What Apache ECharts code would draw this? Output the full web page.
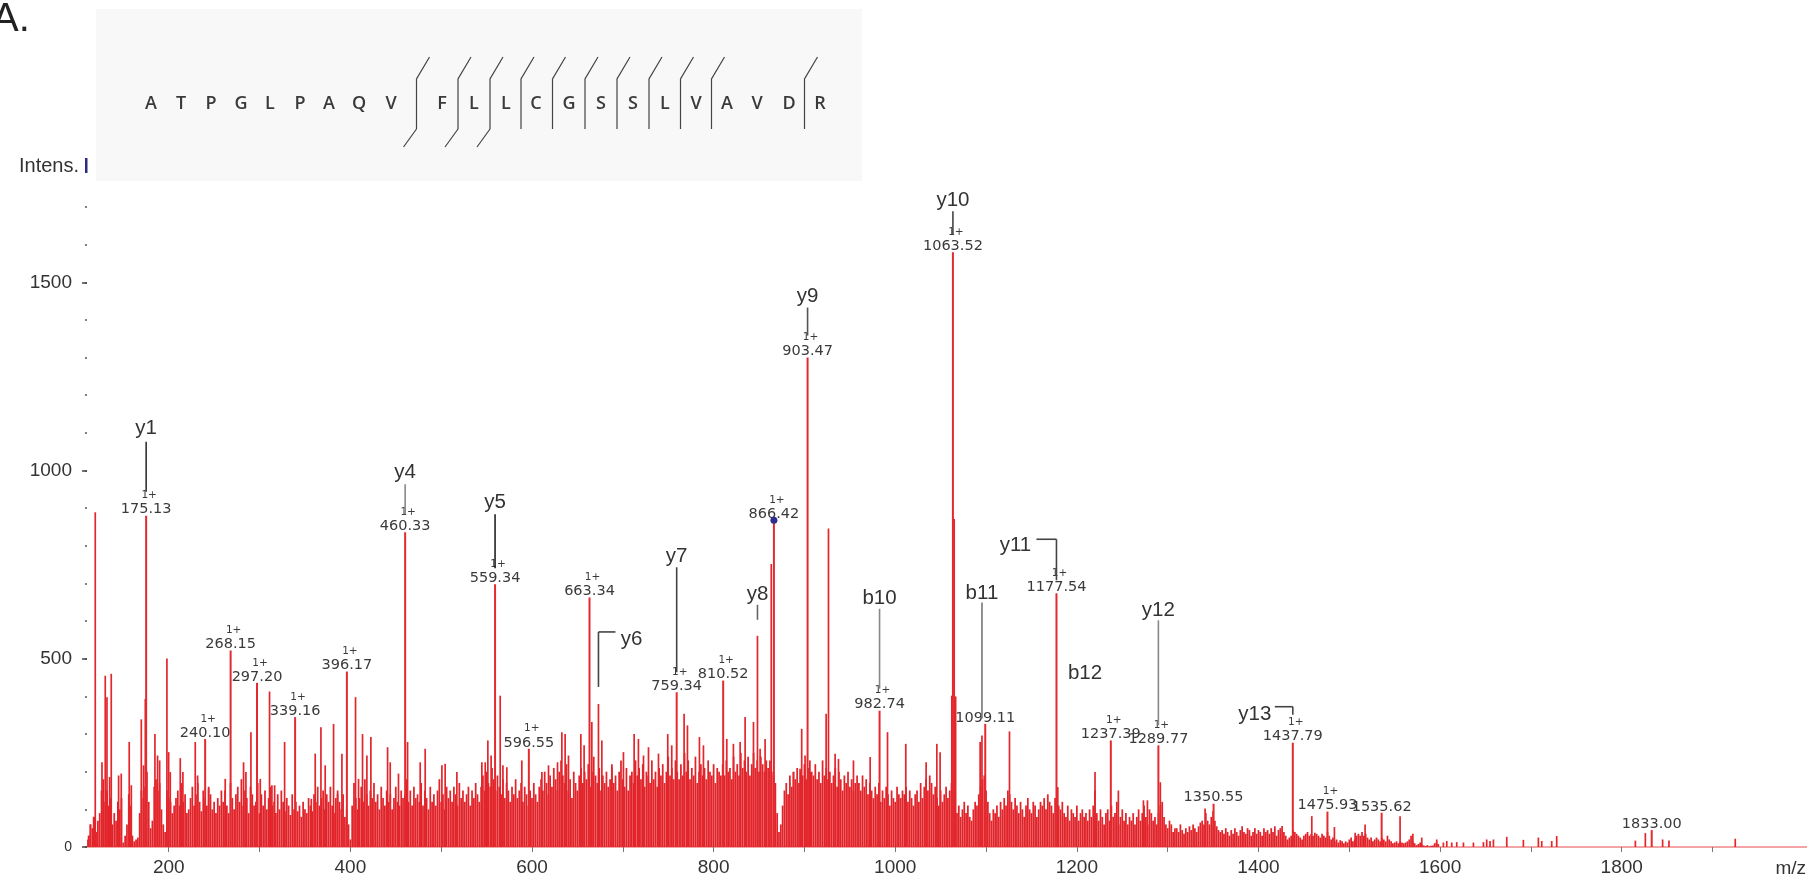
<!DOCTYPE html>
<html>
<head>
<meta charset="utf-8">
<script src="https://cdn.jsdelivr.net/npm/echarts@6/dist/echarts.min.js"></script>
<style>
  html, body { margin: 0; padding: 0; background: #fff; }
  #chart { width: 1807px; height: 883px; }
</style>
</head>
<body>
<div id="chart"></div>
<script>
// ---------- spectrum data ----------
// background ion forest: bin start m/z and the tallest intensity in each 2 m/z bin
const floorBinWidth = 2;
const floorRows = [
  [110,  [20, 30, 60, 50, 80, 40, 70, 90, 150, 180, 120, 150, 110, 130, 60, 90, 70, 120, 100, 130, 12, 30, 60, 140, 110]],
  [160,  [30, 15, 20, 25, 90, 150, 130, 160, 200, 120, 50, 70, 160, 180, 150, 170, 100, 60, 40, 150, 130, 120, 90, 110, 130]],
  [210,  [150, 110, 170, 120, 140, 90, 100, 130, 160, 110, 140, 170, 120, 95, 150, 130, 110, 160, 140, 100, 120, 90, 130, 110, 150]],
  [260,  [120, 150, 110, 90, 170, 130, 100, 140, 160, 120, 180, 110, 150, 130, 90, 160, 140, 110, 120, 170, 90, 140, 110, 150, 100]],
  [310,  [130, 160, 110, 120, 90, 140, 100, 150, 120, 95, 130, 110, 85, 140, 100, 120, 95, 110, 80, 120, 100, 90, 130, 110, 95]],
  [360,  [140, 120, 160, 110, 130, 150, 100, 140, 120, 160, 110, 90, 130, 150, 120, 100, 140, 80, 100, 60, 20, 110, 170, 130, 100]],
  [410,  [130, 160, 120, 180, 140, 110, 150, 130, 170, 120, 140, 100, 160, 130, 110, 150, 120, 140, 100, 130, 160, 120, 110, 150, 130]],
  [460,  [140, 180, 120, 150, 110, 160, 130, 140, 120, 170, 110, 150, 130, 100, 160, 120, 140, 110, 150, 180, 120, 140, 100, 160, 130]],
  [510,  [150, 120, 160, 140, 110, 170, 130, 150, 120, 140, 160, 110, 150, 130, 170, 140, 120, 160, 190, 150, 200, 170, 160, 210, 180]],
  [560,  [150, 190, 160, 140, 180, 130, 170, 150, 120, 160, 140, 180, 130, 150, 170, 120, 160, 140, 110, 150, 130, 170, 140, 120, 160]],
  [610,  [180, 150, 200, 170, 140, 190, 160, 210, 180, 150, 200, 230, 190, 170, 220, 150, 180, 130, 200, 170, 150, 190, 210, 170, 200]],
  [660,  [180, 220, 160, 200, 240, 190, 170, 210, 150, 190, 170, 200, 160, 180, 220, 170, 190, 150, 200, 230, 180, 160, 210, 150, 190]],
  [710,  [200, 170, 230, 190, 210, 180, 220, 160, 200, 190, 170, 230, 180, 200, 160, 210, 190, 220, 170, 200, 240, 190, 210, 180, 230]],
  [760,  [200, 180, 220, 190, 250, 200, 230, 180, 210, 190, 240, 170, 200, 220, 190, 210, 180, 230, 200, 190, 220, 170, 210, 200, 190]],
  [810,  [220, 190, 230, 200, 210, 180, 240, 200, 220, 190, 250, 210, 230, 200, 240, 190, 220, 250, 210, 230, 200, 240, 220, 200, 230]],
  [860,  [210, 230, 200, 190, 170, 90, 40, 60, 110, 150, 170, 140, 190, 160, 200, 180, 210, 170, 200, 190, 220, 180, 210, 230, 200]],
  [910,  [190, 220, 180, 200, 170, 230, 190, 210, 180, 200, 170, 190, 210, 160, 200, 180, 150, 190, 170, 200, 160, 180, 150, 170, 190]],
  [960,  [170, 150, 190, 160, 180, 140, 170, 150, 130, 160, 140, 170, 120, 150, 130, 160, 140, 110, 150, 130, 120, 160, 140, 130, 150]],
  [1010, [140, 160, 120, 150, 130, 110, 140, 150, 120, 170, 130, 160, 180, 150, 190, 170, 140, 160, 130, 110, 150, 120, 140, 160, 130]],
  [1060, [150, 170, 180, 130, 90, 110, 80, 100, 120, 90, 110, 80, 70, 100, 120, 110, 140, 160, 180, 190, 150, 120, 90, 70, 100]],
  [1110, [90, 110, 80, 120, 100, 130, 110, 150, 140, 120, 100, 130, 110, 90, 120, 100, 80, 110, 130, 100, 90, 120, 110, 80, 100]],
  [1160, [120, 110, 130, 100, 140, 120, 110, 90, 130, 150, 110, 100, 120, 90, 80, 110, 70, 100, 90, 80, 110, 70, 90, 100, 80]],
  [1210, [90, 70, 100, 80, 110, 150, 90, 70, 100, 80, 60, 90, 100, 70, 110, 80, 90, 120, 60, 80, 100, 70, 90, 60, 80]],
  [1260, [70, 90, 60, 80, 100, 70, 90, 110, 80, 60, 100, 90, 70, 80, 60, 90, 110, 120, 80, 60, 50, 70, 60, 40, 50]],
  [1310, [50, 40, 60, 45, 35, 50, 40, 55, 45, 60, 50, 40, 55, 65, 70, 60, 90, 70, 60, 80, 95, 70, 55, 45, 40]],
  [1360, [45, 35, 50, 40, 30, 45, 35, 50, 40, 30, 45, 55, 40, 35, 50, 45, 30, 40, 50, 35, 45, 40, 30, 50, 40]],
  [1410, [45, 35, 50, 40, 55, 30, 45, 50, 56, 40, 30, 20, 25, 30, 45, 40, 35, 30, 25, 20, 30, 35, 40, 30, 35]],
  [1460, [30, 38, 35, 30, 25, 35, 30, 25, 40, 30, 20, 25, 15, 20, 12, 18, 15, 10, 15, 12, 20, 25, 15, 20, 30]],
  [1510, [35, 30, 40, 30, 35, 25, 20, 25, 15, 20, 25, 20, 15, 25, 20, 15, 30, 20, 15, 10, 12, 15, 10, 15, 12]],
  [1560, [10, 12, 15, 20, 30, 15, 10, 5, 8, 12, 6, 4, 3, 5, 2, 3, 4, 10, 12, 8]]
];

// individual unlabelled peaks [m/z, intensity]
const spikes = [
  [111.8, 30], [113.6, 60], [117.3, 80], [119.1, 889], [126.5, 225], [130.1, 455], [132.0, 398],
  [134.9, 186], [136.7, 460], [144.8, 190], [147.7, 195], [156.5, 279], [158.8, 164], [169.8, 339],
  [172.3, 217], [174.2, 393], [184.8, 300], [187.7, 243], [190.0, 230], [198.0, 501], [199.9, 252],
  [201.7, 199], [212.7, 236], [215.6, 199], [229.2, 279], [231.8, 190], [243.9, 155], [262.2, 181],
  [282.4, 225], [285.0, 199], [290.5, 305], [300.8, 181], [311.0, 413], [313.6, 164], [316.6, 164],
  [327.6, 279], [357.0, 128], [361.3, 248], [367.6, 318], [372.3, 217], [381.5, 327], [385.9, 141],
  [390.7, 248], [405.7, 398], [409.0, 181], [413.4, 300], [418.2, 243], [422.6, 292], [441.0, 265],
  [443.9, 225], [453.0, 195], [463.0, 279], [476.9, 225], [482.4, 261], [500.8, 217], [504.4, 221],
  [517.3, 199], [544.8, 225], [548.5, 225], [551.4, 283], [555.0, 243], [565.0, 402], [568.0, 217],
  [572.3, 212], [588.8, 230], [610.9, 199], [618.2, 217], [628.1, 225], [632.9, 305], [636.5, 300],
  [640.2, 243], [653.8, 300], [657.4, 270], [665.9, 332], [673.2, 380], [676.9, 283], [687.9, 212],
  [700.7, 252], [712.5, 300], [717.2, 287], [722.8, 243], [728.3, 265], [739.3, 248], [749.5, 300],
  [753.9, 270], [767.5, 354], [771.2, 323], [784.4, 292], [788.8, 270], [814.5, 287], [821.8, 274],
  [829.2, 279], [834.7, 345], [843.9, 332], [848.3, 561], [851.2, 261], [856.7, 287], [863.5, 752],
  [887.9, 199], [895.2, 208], [897.0, 314], [900.7, 243], [906.3, 199], [923.9, 354], [926.5, 846],
  [933.8, 248], [937.5, 234], [954.0, 230], [972.4, 239], [991.5, 305], [1011.6, 274], [1034.0, 225],
  [1045.8, 274], [1049.4, 252], [1062.3, 402], [1064.9, 871], [1066.5, 400], [1093.5, 279], [1095.5, 296],
  [1125.8, 307], [1179.0, 159], [1220.0, 199], [1245.7, 150], [1273.3, 124], [1277.7, 124], [1291.9, 172],
  [1341.2, 102], [1458.7, 82], [1483.6, 53], [1506.4, 38], [1517.4, 60], [1555.9, 82], [1570.0, 35],
  [1579.8, 25], [1596.3, 20], [1603.6, 12], [1607.3, 16], [1612.8, 12], [1618.3, 13], [1625.7, 12],
  [1636.7, 12], [1647.7, 13], [1651.3, 20], [1655.0, 16], [1658.7, 20], [1673.4, 27], [1691.7, 19],
  [1708.2, 25], [1711.9, 16], [1722.9, 16], [1728.4, 29], [1815.0, 17], [1826.0, 37], [1845.0, 20],
  [1852.0, 17], [1925.0, 22]
];

// annotated peaks
const labeledMz = [175.13, 240.10, 268.15, 297.20, 339.16, 396.17, 460.33, 559.34, 596.55, 663.34,
  759.34, 810.52, 866.42, 903.47, 982.74, 1063.52, 1099.11, 1177.54, 1237.39, 1289.77,
  1350.55, 1437.79, 1475.93, 1535.62, 1833.00];
const labeledIntensity = [880, 287, 522, 436, 345, 466, 836, 698, 261, 663,
  411, 442, 868, 1300, 362, 1580, 327, 674, 283, 270,
  115, 277, 94, 91, 45];
const labeledCharge = ['1+', '1+', '1+', '1+', '1+', '1+', '1+', '1+', '1+', '1+',
  '1+', '1+', '1+', '1+', '1+', '1+', '', '1+', '1+', '1+',
  '', '1+', '1+', '', ''];
const precursorMz = 866.42;

// fragment ion assignments
const ionNames = ['y1', 'y4', 'y5', 'y6', 'y7', 'y8', 'y9', 'y10', 'b10', 'b11', 'y11', 'b12', 'y12', 'y13'];
const ionMz = [175.13, 460.33, 559.34, 673.2, 759.34, 848.3, 903.47, 1063.52, 982.74, 1095.5, 1177.54, 1209.0, 1289.77, 1437.79];

// peptide sequence and its observed cleavage sites (index of residue before the cut)
const sequence = ['A', 'T', 'P', 'G', 'L', 'P', 'A', 'Q', 'V', 'F', 'L', 'L', 'C', 'G', 'S', 'S', 'L', 'V', 'A', 'V', 'D', 'R'];
const yCuts = [8, 9, 10, 11, 12, 13, 14, 15, 16, 17, 20];
const bCuts = [8, 9, 10];

// axis ticks
const xTickValues = [200, 300, 400, 500, 600, 700, 800, 900, 1000, 1100, 1200, 1300, 1400, 1500, 1600, 1700, 1800, 1900];
const xLabelValues = [200, 400, 600, 800, 1000, 1200, 1400, 1600, 1800];
const yLabelValues = [0, 500, 1000, 1500];

// ---------- layout (pixels) ----------
const ionLayout = {
  y1:  { kind: 'stem', text: -87, from: -74, to: -24, color: '#333' },
  y4:  { kind: 'stem', text: -60, from: -48, to: -18, color: '#888' },
  y5:  { kind: 'stem', text: -82, from: -70, to: -16, color: '#222' },
  y6:  { kind: 'hookRight', text: -65, dx: 33, from: -72, to: -17, arm: 17, color: '#444' },
  y7:  { kind: 'stem', text: -136, from: -125, to: -20, color: '#444' },
  y8:  { kind: 'stem', text: -41, from: -31, to: -16, color: '#666' },
  y9:  { kind: 'stem', text: -61, from: -50, to: -22, color: '#555' },
  y10: { kind: 'stem', text: -52, from: -41, to: -18, color: '#444' },
  b10: { kind: 'stem', text: -112, from: -102, to: -22, color: '#888' },
  b11: { kind: 'stem', text: -142, from: -133, to: -17, color: '#777' },
  y11: { kind: 'hookLeft', text: -48, dx: -41, from: -54, to: -13, arm: -20, color: '#444' },
  b12: { kind: 'text', text: -174, dx: 0 },
  y12: { kind: 'stem', text: -135, from: -125, to: -20, color: '#888' },
  y13: { kind: 'hookLeft', text: -28, dx: -38, from: -36, to: -28, arm: -18, color: '#444' }
};
const letterX = [151, 181, 211, 241, 270, 300, 329, 359, 391, 442, 474, 506, 536, 569, 601, 633, 665, 696, 727, 757, 789, 820];

// ---------- build series data ----------
const floorData = [];
floorRows.forEach(([start, vals]) => vals.forEach((v, j) => floorData.push([start + j * floorBinWidth, v])));
const labeledData = labeledMz.map((m, i) => [m, labeledIntensity[i], i]);

function peakIntensity(mz) {
  const i = labeledMz.findIndex(m => Math.abs(m - mz) < 0.05);
  if (i >= 0) return labeledIntensity[i];
  const s = spikes.find(p => Math.abs(p[0] - mz) < 0.05);
  return s ? s[1] : 0;
}
const ionData = ionNames.map((n, i) => [ionMz[i], peakIntensity(ionMz[i]), i]);

const RED = '#e3262c';

function stem(width, fill) {
  return function (params, api) {
    const base = api.coord([api.value(0), 0]);
    const top = api.coord([api.value(0), api.value(1)]);
    return { type: 'rect', shape: { x: base[0] - width / 2, y: top[1], width: width, height: base[1] - top[1] }, style: { fill: fill } };
  };
}

function txt(x, y, text, font, fill, align) {
  return { type: 'text', x: x, y: y, style: { text: text, font: font, fill: fill,
    align: align || 'center', verticalAlign: 'middle', textAlign: align || 'center', textVerticalAlign: 'middle' } };
}
function seg(x1, y1, x2, y2, stroke, w) {
  return { type: 'line', shape: { x1: x1, y1: y1, x2: x2, y2: y2 }, style: { stroke: stroke, lineWidth: w || 1.6 } };
}

const LABEL_FONT = '14.5px "DejaVu Sans"';
const CHARGE_FONT = '10.5px "DejaVu Sans"';
const ION_FONT = '20.5px "Liberation Sans"';

function renderLabeled(params, api) {
  const i = api.value(2);
  const base = api.coord([api.value(0), 0]);
  const top = api.coord([api.value(0), api.value(1)]);
  const children = [
    { type: 'rect', shape: { x: base[0] - 1, y: top[1], width: 2, height: base[1] - top[1] }, style: { fill: '#e52a2f' } },
    txt(top[0], top[1] - 6, labeledMz[i].toFixed(2), LABEL_FONT, '#3a3a3a')
  ];
  if (labeledCharge[i]) children.push(txt(top[0] + 3, top[1] - 20, labeledCharge[i], CHARGE_FONT, '#3a3a3a'));
  if (labeledMz[i] === precursorMz) children.push({ type: 'circle', shape: { cx: top[0], cy: top[1], r: 3.5 }, style: { fill: '#2d2d8f' } });
  return { type: 'group', children: children };
}

function renderIon(params, api) {
  const name = ionNames[api.value(2)];
  const L = ionLayout[name];
  const p = api.coord([api.value(0), api.value(1)]);
  const x = p[0], y = p[1];
  const c = [];
  if (L.kind === 'stem') {
    c.push(seg(x, y + L.from, x, y + L.to, L.color));
    c.push(txt(x, y + L.text, name, ION_FONT, '#333'));
  } else if (L.kind === 'hookRight' || L.kind === 'hookLeft') {
    c.push(seg(x, y + L.from, x, y + L.to, L.color));
    c.push(seg(x + L.arm, y + L.from, x, y + L.from, L.color));
    c.push(txt(x + L.dx, y + L.text, name, ION_FONT, '#333'));
  } else {
    c.push(txt(x + L.dx, y + L.text, name, ION_FONT, '#333'));
  }
  return { type: 'group', children: c };
}

// ---------- header graphics ----------
const graphics = [
  { type: 'rect', shape: { x: 96, y: 9, width: 766, height: 172 }, style: { fill: '#f8f8f8' }, z: -10 },
  { type: 'text', x: -8, y: 20, style: { text: 'A.', font: '40px "Liberation Sans"', fill: '#222', textAlign: 'left', textVerticalAlign: 'middle', align: 'left', verticalAlign: 'middle' } },
  { type: 'text', x: 79, y: 166, style: { text: 'Intens.', font: '20px "Liberation Sans Narrow", "Liberation Sans"', fill: '#333', textAlign: 'right', textVerticalAlign: 'middle', align: 'right', verticalAlign: 'middle' } },
  { type: 'rect', shape: { x: 85, y: 158, width: 2.5, height: 15 }, style: { fill: '#2b2b80' } },
  { type: 'text', x: 1806, y: 869, style: { text: 'm/z', font: '19px "Liberation Sans"', fill: '#333', textAlign: 'right', textVerticalAlign: 'middle', align: 'right', verticalAlign: 'middle' } }
];
sequence.forEach((aa, i) => {
  graphics.push({ type: 'text', x: letterX[i], y: 104, style: { text: aa, font: '600 18px "Open Sans"', fill: '#3a3a3a', textAlign: 'center', textVerticalAlign: 'middle', align: 'center', verticalAlign: 'middle' } });
});
function cutX(k) { return (letterX[k] + letterX[k + 1]) / 2; }
yCuts.forEach(k => {
  const bx = cutX(k);
  graphics.push({ type: 'polyline', shape: { points: [[bx + 13, 57], [bx, 79], [bx, 129]] }, style: { stroke: '#444', lineWidth: 1.2, fill: null } });
});
bCuts.forEach(k => {
  const bx = cutX(k);
  graphics.push({ type: 'line', shape: { x1: bx, y1: 129, x2: bx - 13, y2: 147 }, style: { stroke: '#444', lineWidth: 1.2 } });
});

// ---------- chart ----------
const chart = echarts.init(document.getElementById('chart'), null, { renderer: 'canvas' });
chart.setOption({
  animation: false,
  backgroundColor: '#fff',
  grid: { left: 87, right: 0, top: 207, bottom: 36, containLabel: false },
  xAxis: {
    type: 'value', min: 110, max: 2004,
    axisLine: { show: true, lineStyle: { color: '#f08888', width: 1.5 } },
    axisTick: { show: true, customValues: xTickValues, length: 5, lineStyle: { color: '#777', width: 1 } },
    axisLabel: { customValues: xLabelValues, formatter: v => String(v), fontSize: 19, color: '#333', margin: 11, fontFamily: 'Liberation Sans' },
    splitLine: { show: false }
  },
  yAxis: [
    {
      type: 'value', min: 0, max: 1700, interval: 100, position: 'left',
      axisLine: { show: false },
      axisTick: { show: true, length: 2, lineStyle: { color: '#555', width: 1.5 } },
      axisLabel: {
        margin: 15, fontSize: 19, color: '#333', fontFamily: 'Liberation Sans',
        formatter: v => yLabelValues.indexOf(v) < 0 ? '' : (v === 0 ? '{s|0}' : String(v)),
        rich: { s: { fontSize: 14, color: '#333', fontFamily: 'Liberation Sans' } }
      },
      splitLine: { show: false }
    },
    {
      type: 'value', min: 0, max: 1700, position: 'left',
      axisLine: { show: false },
      axisTick: { show: true, customValues: yLabelValues, length: 5, lineStyle: { color: '#444', width: 1.5 } },
      axisLabel: { show: false },
      splitLine: { show: false }
    }
  ],
  series: [
    { type: 'custom', name: 'background', data: floorData, encode: { x: 0, y: 1 }, renderItem: stem(1.75, '#e1232a'), clip: true, z: 2, silent: true },
    { type: 'custom', name: 'peaks', data: spikes, encode: { x: 0, y: 1 }, renderItem: stem(1.7, RED), clip: true, z: 3, silent: true },
    { type: 'custom', name: 'annotated', data: labeledData, encode: { x: 0, y: 1 }, renderItem: renderLabeled, clip: false, z: 4, silent: true },
    { type: 'custom', name: 'ions', data: ionData, encode: { x: 0, y: 1 }, renderItem: renderIon, clip: false, z: 5, silent: true }
  ],
  graphic: graphics
});
</script>
</body>
</html>
